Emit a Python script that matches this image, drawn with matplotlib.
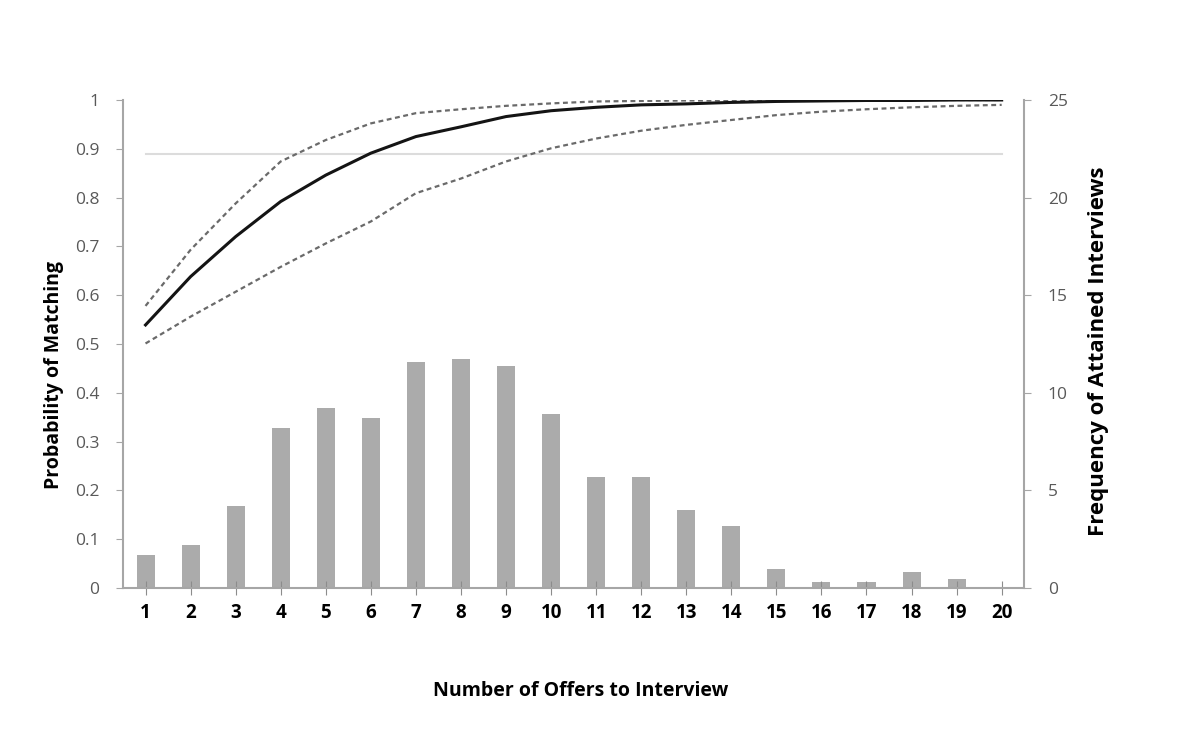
import matplotlib.pyplot as plt

plt.rcParams['font.family'] = ['Open Sans', 'DejaVu Sans']

# Data
offers = list(range(1, 21))
frequency = [1.7, 2.2, 4.2, 8.2, 9.2, 8.7, 11.6, 11.75, 11.35, 8.9,
             5.7, 5.7, 4.0, 3.2, 0.97, 0.29, 0.29, 0.8, 0.46, 0.0]
prob_match = [0.539, 0.638, 0.720, 0.792, 0.846, 0.891, 0.925, 0.945, 0.966, 0.978,
              0.985, 0.990, 0.992, 0.995, 0.997, 0.998, 0.999, 0.999, 1.0, 1.0]
prob_upper = [0.578, 0.693, 0.788, 0.874, 0.918, 0.952, 0.973, 0.981, 0.988, 0.993,
              0.997, 0.998, 0.999, 0.999, 1.0, 1.0, 1.0, 1.0, 1.0, 1.0]
prob_lower = [0.501, 0.556, 0.607, 0.658, 0.706, 0.751, 0.809, 0.839, 0.874, 0.901,
              0.921, 0.937, 0.949, 0.959, 0.969, 0.976, 0.981, 0.985, 0.988, 0.990]
reference_level = 0.889

fig = plt.figure(figsize=(12, 7.54), dpi=100)
ax = fig.add_axes([0.1025, 0.2202, 0.751, 0.6472])
ax2 = ax.twinx()

# bars (right axis) behind the probability lines (left axis)
ax2.bar(offers, frequency, width=0.4, color='#ababab', zorder=2)
ax.set_zorder(ax2.get_zorder() + 1)
ax.patch.set_visible(False)

ax.plot([offers[0], offers[-1]], [reference_level, reference_level], color='#dcdcdc', lw=1.5)
ax.plot(offers, prob_upper, color='#6a6a6a', lw=1.6, ls=(0, (2.2, 1.6)))
ax.plot(offers, prob_lower, color='#6a6a6a', lw=1.6, ls=(0, (2.2, 1.6)))
ax.plot(offers, prob_match, color='#141414', lw=2.2)

ax.set_xlim(0.5, 20.5)
ax.set_ylim(0, 1)
ax2.set_ylim(0, 25)

ax.set_yticks([i / 10 for i in range(11)])
ax.set_yticklabels(['0', '0.1', '0.2', '0.3', '0.4', '0.5', '0.6', '0.7', '0.8', '0.9', '1'])
ax2.set_yticks([0, 5, 10, 15, 20, 25])
ax.set_xticks(offers)
ax.set_xticklabels([str(o) for o in offers], fontweight='bold', fontsize=13.5)

for a in (ax, ax2):
    a.spines['top'].set_visible(False)
    for s in ('left', 'right', 'bottom'):
        a.spines[s].set_color('#a6a6a6')
        a.spines[s].set_linewidth(1.5)
ax.spines['right'].set_visible(False)
ax2.spines['left'].set_visible(False)
ax2.spines['bottom'].set_visible(False)

ax.tick_params(axis='y', direction='out', length=5, color='#a6a6a6', labelcolor='#595959', labelsize=12.5, pad=12)
ax2.tick_params(axis='y', direction='out', length=5, color='#a6a6a6', labelcolor='#595959', labelsize=12.5, pad=12)
ax.tick_params(axis='x', direction='inout', length=10, color='#8c8c8c', labelcolor='black', pad=6)

ax.set_ylabel('Probability of Matching', fontsize=14, fontweight='bold')
ax.yaxis.set_label_coords(-0.066, 0.436)
ax2.set_ylabel('Frequency of Attained Interviews', fontsize=16, fontweight='bold')
ax2.yaxis.set_label_coords(1.071, 0.486)
ax.set_xlabel('Number of Offers to Interview', fontsize=14, fontweight='bold')
ax.xaxis.set_label_coords(0.508, -0.191)

fig.savefig('out.png', dpi=100)
